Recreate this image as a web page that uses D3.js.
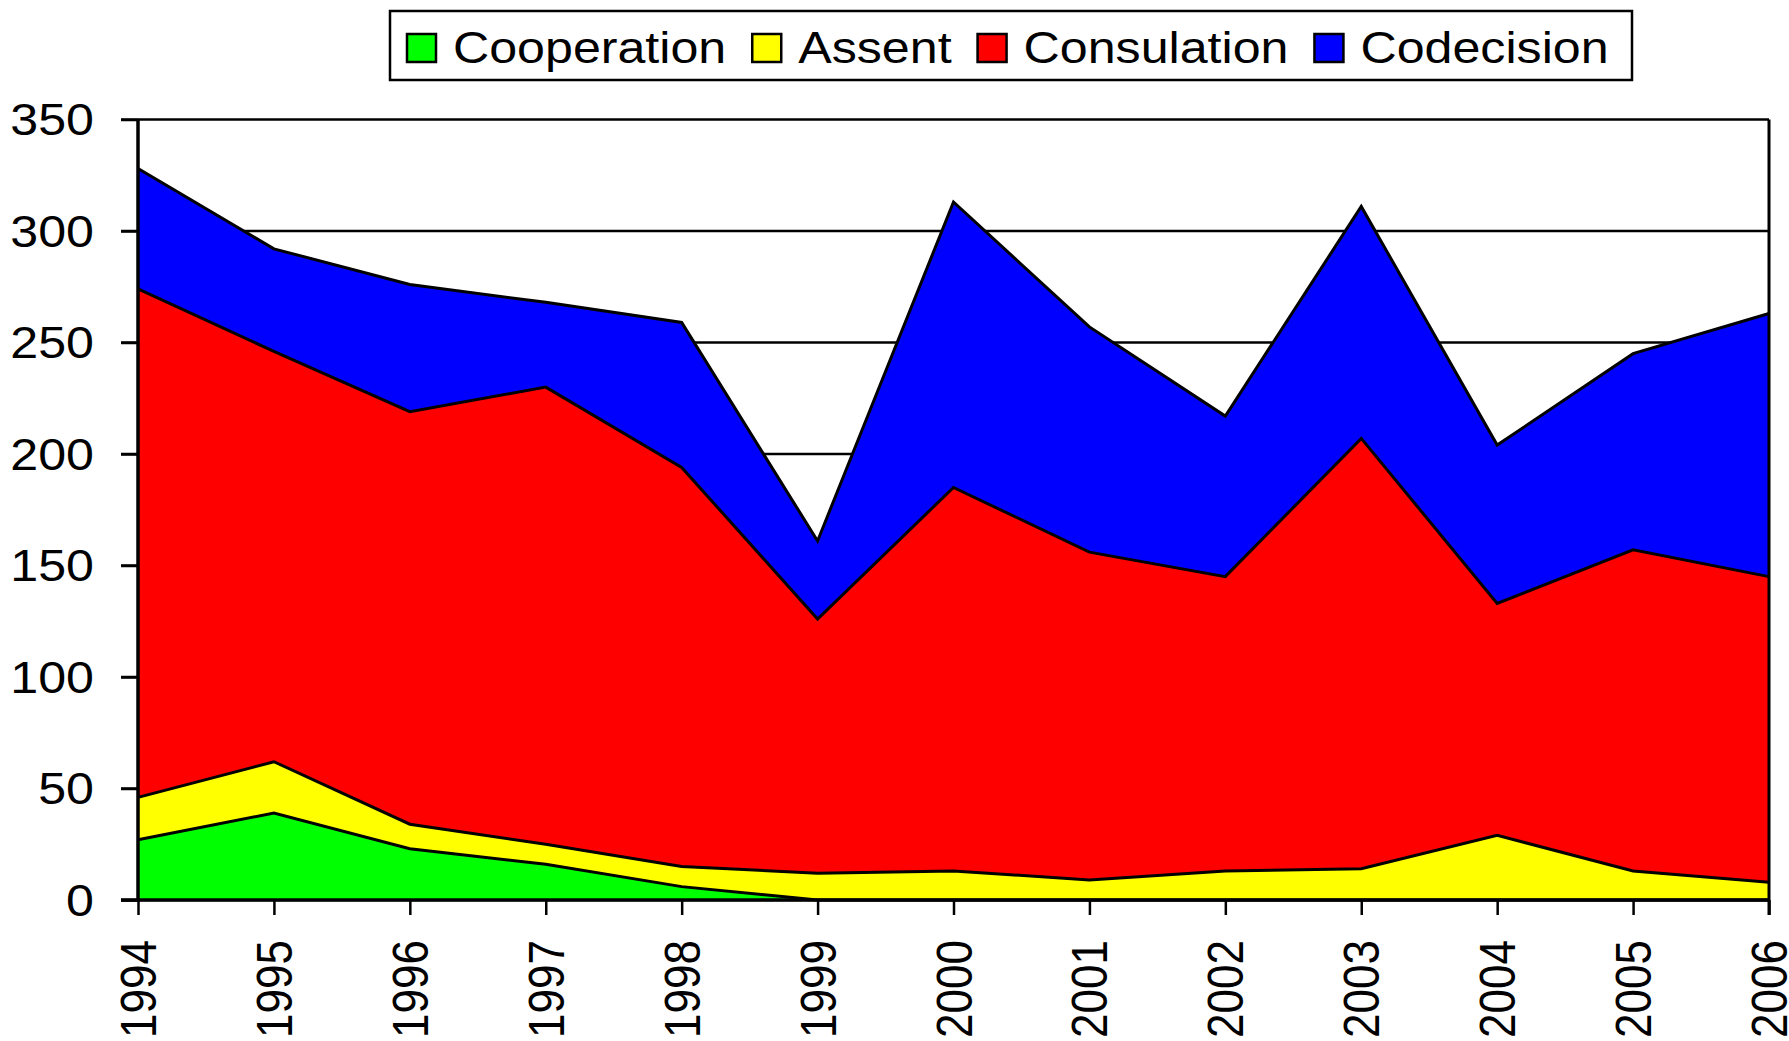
<!DOCTYPE html>
<html>
<head>
<meta charset="utf-8">
<script src="https://cdn.jsdelivr.net/npm/d3@7"></script>
<style>
  body { margin: 0; background: #fff; }
  text { font-family: "Liberation Sans", Arial, sans-serif; fill: #000; }
</style>
</head>
<body>
<svg id="chart"></svg>
<script>
// values
const years = [1994, 1995, 1996, 1997, 1998, 1999, 2000, 2001, 2002, 2003, 2004, 2005, 2006];
const cooperation = [27, 39, 23, 16, 6, 0, 0, 0, 0, 0, 0, 0, 0];
const assent = [19, 23, 11, 9, 9, 12, 13, 9, 13, 14, 29, 13, 8];
const consulation = [228, 184, 185, 205, 179, 114, 172, 147, 132, 193, 104, 144, 137];
const codecision = [54, 46, 57, 38, 65, 35, 128, 101, 72, 104, 71, 88, 118];
const seriesNames = ["Cooperation", "Assent", "Consulation", "Codecision"];
const seriesColors = ["#00ff00", "#ffff00", "#ff0000", "#0000ff"];
const yTicks = [0, 50, 100, 150, 200, 250, 300, 350];

const width = 1789, height = 1041;
const margin = { top: 119.5, right: 20, bottom: 141, left: 138 };
const w = width - margin.left - margin.right;
const h = height - margin.top - margin.bottom;
const stretch = 1.14;

const table = years.map((y, i) => ({
    year: y,
    Cooperation: cooperation[i],
    Assent: assent[i],
    Consulation: consulation[i],
    Codecision: codecision[i]
}));

const stacked = d3.stack().keys(seriesNames)(table);

const svg = d3.select("#chart")
    .attr("width", width)
    .attr("height", height);

const chart = svg.append("g")
    .attr("transform", `translate(${margin.left},${margin.top})`);

const xScale = d3.scalePoint()
    .domain(years)
    .range([0, w]);

const yScale = d3.scaleLinear()
    .domain([0, 350])
    .range([h, 0]);

// gridlines
chart.append("g")
    .selectAll("line")
    .data(yTicks)
    .join("line")
    .attr("x1", -17)
    .attr("x2", w)
    .attr("y1", d => yScale(d))
    .attr("y2", d => yScale(d))
    .attr("stroke", "#000")
    .attr("stroke-width", 2.5);

const area = d3.area()
    .x(d => xScale(d.data.year))
    .y0(d => yScale(d[0]))
    .y1(d => yScale(d[1]));

const topLine = d3.line()
    .x(d => xScale(d.data.year))
    .y(d => yScale(d[1]));

chart.selectAll(".layer")
    .data(stacked)
    .join("path")
    .attr("class", "layer")
    .attr("d", area)
    .attr("fill", (d, i) => seriesColors[i]);

chart.selectAll(".edge")
    .data(stacked)
    .join("path")
    .attr("class", "edge")
    .attr("d", topLine)
    .attr("fill", "none")
    .attr("stroke", "#000")
    .attr("stroke-width", 3)
    .attr("stroke-linejoin", "miter");

// right border
chart.append("line")
    .attr("x1", w).attr("x2", w)
    .attr("y1", 0).attr("y2", h + 15)
    .attr("stroke", "#000")
    .attr("stroke-width", 3);

// y axis
const yAxis = d3.axisLeft(yScale)
    .tickValues(yTicks)
    .tickSize(17)
    .tickFormat(d => d);

const yAxisG = chart.append("g").call(yAxis);
yAxisG.select(".domain").attr("stroke-width", 3.5).attr("d", `M0,0V${h}`);
yAxisG.selectAll(".tick line").attr("stroke-width", 2.5);
yAxisG.selectAll(".tick text")
    .attr("x", null)
    .attr("dy", null)
    .attr("transform", `translate(-44,0) scale(${stretch},1)`)
    .attr("dy", "0.35em")
    .style("font-size", "44px")
    .attr("text-anchor", "end");

// x axis
const xAxis = d3.axisBottom(xScale)
    .tickSize(15)
    .tickFormat(d => d);

const xAxisG = chart.append("g")
    .attr("transform", `translate(0,${h})`)
    .call(xAxis);
xAxisG.select(".domain").attr("stroke-width", 3.5).attr("d", `M-17,0H${w}`);
xAxisG.selectAll(".tick line").attr("stroke-width", 2.5);
xAxisG.selectAll(".tick text")
    .attr("y", null)
    .attr("dy", "0.35em")
    .attr("transform", `translate(0,40) scale(${stretch},1) rotate(-90)`)
    .attr("text-anchor", "end")
    .style("font-size", "44px");

// legend
const legend = svg.append("g");
legend.append("rect")
    .attr("x", 390).attr("y", 11)
    .attr("width", 1242).attr("height", 69)
    .attr("fill", "#fff")
    .attr("stroke", "#000")
    .attr("stroke-width", 2.5);

let lx = 407;
seriesNames.forEach((name, i) => {
    legend.append("rect")
        .attr("x", lx).attr("y", 34)
        .attr("width", 29).attr("height", 28)
        .attr("fill", seriesColors[i])
        .attr("stroke", "#000")
        .attr("stroke-width", 2.5);
    const t = legend.append("text")
        .attr("transform", `translate(${lx + 46},63) scale(${stretch},1)`)
        .style("font-size", "44px")
        .text(name);
    const tw = t.node().getComputedTextLength() * stretch;
    lx += 46 + tw + 26;
});
</script>
</body>
</html>
